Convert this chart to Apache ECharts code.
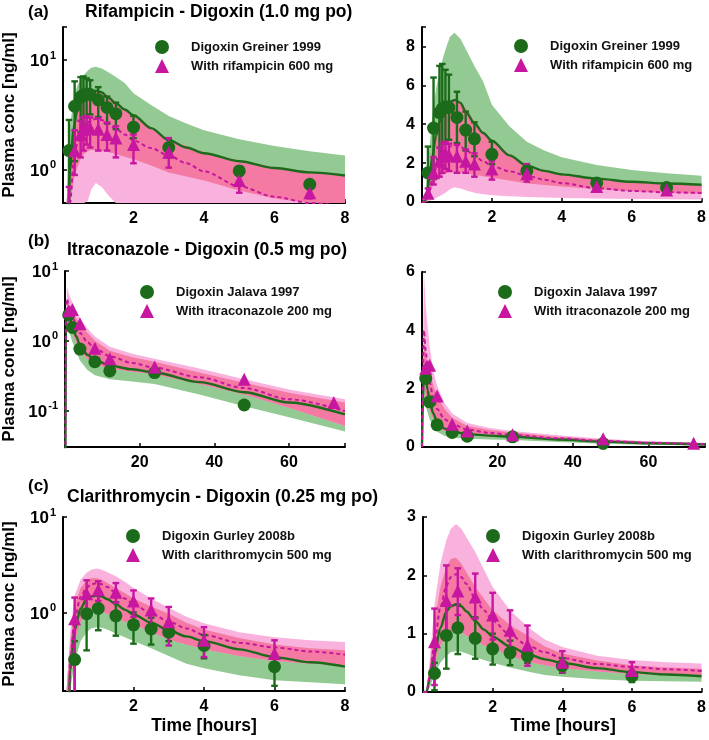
<!DOCTYPE html>
<html><head><meta charset="utf-8">
<script src="https://cdn.jsdelivr.net/npm/echarts@6/dist/echarts.min.js"></script>
<style>html,body{margin:0;padding:0;background:#fff}#c{width:709px;height:740px}</style>
</head><body><div id="c"></div>
<script>
// ---------- Panel (a): Rifampicin - Digoxin (1.0 mg po) ----------
const aObsTime = [0.17, 0.33, 0.5, 0.58, 0.67, 0.77, 1.0, 1.25, 1.5, 2, 3, 5, 7];
const aDigMean = [1.5, 3.8, 4.6, 4.8, 4.9, 4.85, 4.35, 3.7, 3.25, 2.45, 1.6, 0.98, 0.74];
const aDigLo   = [0.3, 1.2, 2.2, 2.6, 3.0, 3.2, 3.03, 2.65, 2.35, 1.95, 1.3, 0.88, 0.68];
const aDigHi   = [2.85, 6.4, 7.0, 7.1, 6.8, 6.55, 5.67, 4.65, 4.1, 3.1, 1.92, 1.08, 0.8];
const aDdiMean = [0.45, 1.5, 2.1, 2.35, 2.5, 2.4, 2.35, 2.1, 1.95, 1.7, 1.45, 0.8, 0.62];
const aDdiLo   = [0.25, 0.9, 1.3, 1.5, 1.7, 1.6, 1.5, 1.5, 1.3, 1.15, 1.05, 0.62, 0.55];
const aDdiHi   = [0.7, 2.3, 2.8, 3.0, 3.1, 3.0, 2.95, 2.7, 2.5, 2.1, 1.95, 1.0, 0.72];
const aSimTime = [0, 0.1, 0.2, 0.3, 0.4, 0.5, 0.6, 0.7, 0.8, 0.95, 1.1, 1.25, 1.5, 1.75, 2, 2.5, 3, 3.5, 4, 5, 6, 7, 8];
const aSimDig  = [0, 0.05, 1.0, 2.4, 3.4, 4.1, 4.6, 4.95, 5.15, 5.25, 5.1, 4.65, 4.05, 3.55, 3.15, 2.4, 1.87, 1.6, 1.42, 1.2, 1.04, 0.95, 0.89];
const aSimDdi  = [0, 0.03, 0.5, 1.15, 1.7, 2.15, 2.45, 2.7, 2.85, 2.92, 2.85, 2.68, 2.38, 2.1, 1.85, 1.58, 1.35, 1.15, 0.97, 0.71, 0.57, 0.5, 0.46];
const aBandTime  = [0.1, 0.2, 0.3, 0.4, 0.5, 0.6, 0.7, 0.8, 0.93, 1.1, 1.3, 1.5, 1.75, 2, 2.5, 3, 3.5, 4, 5, 6, 7, 8];
const aDigBandLo = [0.05, 0.4, 0.8, 1.05, 1.25, 1.4, 1.48, 1.52, 1.52, 1.5, 1.45, 1.4, 1.32, 1.25, 1.1, 0.95, 0.87, 0.8, 0.65, 0.55, 0.48, 0.43];
const aDigBandHi = [0.3, 2.5, 4.5, 5.8, 6.7, 7.4, 8.0, 8.5, 8.7, 8.4, 7.7, 7.0, 6.2, 5.0, 3.9, 3.1, 2.65, 2.3, 1.9, 1.65, 1.48, 1.35];
const aDdiBandLo = [0.0, 0.05, 0.12, 0.2, 0.3, 0.4, 0.52, 0.66, 0.76, 0.7, 0.58, 0.47, 0.4, 0.35, 0.3, 0.26, 0.23, 0.21, 0.18, 0.16, 0.14, 0.13];
const aDdiBandHi = [0.15, 1.2, 2.6, 3.6, 4.3, 4.75, 5.05, 5.2, 5.3, 5.15, 4.7, 4.15, 3.6, 3.2, 2.45, 1.92, 1.65, 1.45, 1.22, 1.06, 0.97, 0.91];

// ---------- Panel (b): Itraconazole - Digoxin (0.5 mg po) ----------
const bDigTime = [1, 2, 4, 8, 12, 24, 48];
const bDigMean = [2.35, 1.55, 0.76, 0.5, 0.37, 0.35, 0.12];
const bDdiTime = [1, 2, 4, 8, 12, 24, 48, 72];
const bDdiMean = [2.7, 2.8, 1.75, 0.78, 0.55, 0.42, 0.28, 0.13];
const bSimTime = [0, 0.25, 0.5, 1, 1.5, 2, 3, 4, 6, 8, 12, 18, 24, 36, 48, 60, 75];
const bSimDig  = [0, 1.6, 2.8, 2.45, 1.95, 1.6, 1.15, 0.87, 0.63, 0.53, 0.44, 0.39, 0.35, 0.255, 0.183, 0.13, 0.088];
const bSimDdi  = [0, 2.5, 4.0, 3.3, 2.7, 2.25, 1.65, 1.3, 0.95, 0.78, 0.6, 0.48, 0.41, 0.3, 0.21, 0.145, 0.098];
const bBandTime  = [0, 0.5, 1, 2, 3, 4, 6, 8, 12, 18, 24, 36, 48, 60, 75];
const bDigBandLo = [0, 1.5, 1.4, 0.95, 0.7, 0.52, 0.38, 0.32, 0.28, 0.26, 0.24, 0.17, 0.115, 0.08, 0.05];
const bDigBandHi = [0, 3.6, 3.2, 2.6, 2.1, 1.75, 1.3, 1.0, 0.72, 0.58, 0.5, 0.35, 0.25, 0.18, 0.13];
const bDdiBandLo = [0, 2.0, 1.8, 1.3, 0.95, 0.7, 0.55, 0.46, 0.4, 0.36, 0.33, 0.24, 0.17, 0.11, 0.06];
const bDdiBandHi = [0, 6.0, 4.8, 3.5, 2.6, 2.1, 1.5, 1.15, 0.82, 0.65, 0.55, 0.4, 0.28, 0.2, 0.145];

// ---------- Panel (c): Clarithromycin - Digoxin (0.25 mg po) ----------
const cObsTime = [0.33, 0.67, 1, 1.5, 2, 2.5, 3, 4, 6];
const cDigMean = [0.32, 0.97, 1.1, 0.92, 0.74, 0.67, 0.62, 0.45, 0.27];
const cDigLo   = [0.03, 0.4, 0.65, 0.57, 0.47, 0.46, 0.5, 0.33, 0.17];
const cDigHi   = [0.5, 1.5, 1.5, 1.28, 1.0, 0.88, 0.75, 0.58, 0.36];
const cDdiMean = [0.86, 1.57, 1.73, 1.63, 1.32, 1.06, 0.8, 0.51, 0.37];
const cDdiLo   = [0.12, 0.97, 1.32, 1.26, 0.9, 0.74, 0.45, 0.34, 0.27];
const cDdiHi   = [1.43, 2.17, 2.12, 2.03, 1.7, 1.4, 1.14, 0.7, 0.51];
const cSimTime = [0, 0.1, 0.2, 0.33, 0.5, 0.67, 0.8, 0.95, 1.1, 1.25, 1.5, 1.75, 2, 2.5, 3, 3.5, 4, 5, 6, 7, 8];
const cSimDig  = [0, 0, 0.25, 0.65, 1.1, 1.38, 1.47, 1.5, 1.47, 1.38, 1.22, 1.07, 0.95, 0.78, 0.65, 0.56, 0.5, 0.41, 0.34, 0.3, 0.27];
const cSimDdi  = [0, 0, 0.3, 0.85, 1.45, 1.82, 1.97, 2.02, 1.97, 1.85, 1.6, 1.4, 1.22, 0.98, 0.8, 0.68, 0.58, 0.48, 0.43, 0.39, 0.36];
const cDigBandLo = [0, 0, 0.08, 0.3, 0.5, 0.62, 0.68, 0.7, 0.69, 0.66, 0.6, 0.55, 0.5, 0.42, 0.35, 0.29, 0.26, 0.22, 0.195, 0.185, 0.177];
const cDigBandHi = [0, 0, 0.45, 1.2, 1.8, 2.15, 2.28, 2.3, 2.2, 2.05, 1.8, 1.6, 1.4, 1.15, 0.97, 0.78, 0.66, 0.54, 0.46, 0.42, 0.4];
const cDdiBandLo = [0, 0, 0.15, 0.5, 0.8, 0.95, 1.02, 1.05, 1.02, 0.97, 0.88, 0.8, 0.75, 0.62, 0.52, 0.46, 0.41, 0.35, 0.31, 0.29, 0.28];
const cDdiBandHi = [0, 0, 0.6, 1.5, 2.2, 2.6, 2.8, 2.88, 2.8, 2.65, 2.4, 2.1, 1.8, 1.4, 1.12, 0.9, 0.77, 0.62, 0.55, 0.51, 0.49];

// ---------- Labels ----------
const panelLetters = ['(a)', '(b)', '(c)'];
const panelTitles = ['Rifampicin - Digoxin (1.0 mg po)', 'Itraconazole - Digoxin (0.5 mg po)', 'Clarithromycin - Digoxin (0.25 mg po)'];
const legendNames = [
  ['Digoxin Greiner 1999', 'With rifampicin 600 mg'],
  ['Digoxin Jalava 1997', 'With itraconazole 200 mg'],
  ['Digoxin Gurley 2008b', 'With clarithromycin 500 mg']
];
const yAxisTitle = 'Plasma conc [ng/ml]';
const xAxisTitle = 'Time [hours]';

// ---------- Styling ----------
const FONT = '"Liberation Sans", Arial, sans-serif';
const C_GREEN_BAND = '#93ca93';
const C_PINK_LIGHT = '#f9b2de';
const C_PINK_OVER = '#f47aa3';
const C_GREEN = '#1b6b1b';
const C_MAG = '#c7169f';

const chart = echarts.init(document.getElementById('c'), null, {renderer: 'canvas'});

function pos(v, isLog) { return (isLog && !(v > 0)) ? 1e-4 : v; }

const panels = [
  {isLog: true, xMax: 8, xInt: 2, yMin: 0.5, yMax: 20, grid: {left: 63, top: 27, width: 282, height: 176}, leg: [155, 40]},
  {isLog: false, xMax: 8, xInt: 2, yMin: 0, yMax: 9, yInt: 2, grid: {left: 422, top: 27, width: 282, height: 175}, leg: [514, 39]},
  {isLog: true, xMax: 75, xInt: 20, yMin: 0.03, yMax: 10, grid: {left: 65, top: 271, width: 280, height: 176}, leg: [140, 285]},
  {isLog: false, xMax: 75, xInt: 20, yMin: 0, yMax: 6, yInt: 2, grid: {left: 422, top: 272, width: 283, height: 175}, leg: [498, 285]},
  {isLog: true, xMax: 8, xInt: 2, yMin: 0.15, yMax: 10, grid: {left: 63, top: 517, width: 282, height: 174}, leg: [126, 529]},
  {isLog: false, xMax: 8, xInt: 2, yMin: 0, yMax: 3, yInt: 1, grid: {left: 423, top: 517, width: 281, height: 175}, leg: [486, 529]}
];

const dataSets = [
  {obsDigT: aObsTime, digM: aDigMean, digLo: aDigLo, digHi: aDigHi, obsDdiT: aObsTime, ddiM: aDdiMean, ddiLo: aDdiLo, ddiHi: aDdiHi,
   simT: aSimTime, simDig: aSimDig, simDdi: aSimDdi, bandT: aBandTime, gLo: aDigBandLo, gHi: aDigBandHi, pLo: aDdiBandLo, pHi: aDdiBandHi},
  {obsDigT: bDigTime, digM: bDigMean, obsDdiT: bDdiTime, ddiM: bDdiMean,
   simT: bSimTime, simDig: bSimDig, simDdi: bSimDdi, bandT: bBandTime, gLo: bDigBandLo, gHi: bDigBandHi, pLo: bDdiBandLo, pHi: bDdiBandHi},
  {obsDigT: cObsTime, digM: cDigMean, digLo: cDigLo, digHi: cDigHi, obsDdiT: cObsTime, ddiM: cDdiMean, ddiLo: cDdiLo, ddiHi: cDdiHi,
   simT: cSimTime, simDig: cSimDig, simDdi: cSimDdi, bandT: cSimTime, gLo: cDigBandLo, gHi: cDigBandHi, pLo: cDdiBandLo, pHi: cDdiBandHi}
];

function bandSeries(gi, isLog, times, lo, hi, color, z) {
  return {
    type: 'custom', xAxisIndex: gi, yAxisIndex: gi, z: z, silent: true,
    data: [[times[0], pos(hi[0], isLog)]],
    renderItem: function (params, api) {
      const pts = [];
      for (let i = 0; i < times.length; i++) pts.push(api.coord([times[i], pos(hi[i], isLog)]));
      for (let i = times.length - 1; i >= 0; i--) pts.push(api.coord([times[i], pos(lo[i], isLog)]));
      const cs = params.coordSys;
      const clipped = echarts.graphic.clipPointsByRect(pts, {x: cs.x, y: cs.y, width: cs.width, height: cs.height});
      return {type: 'polygon', shape: {points: clipped, smooth: 0}, style: {fill: color, stroke: null}};
    }
  };
}

function errSeries(gi, isLog, times, lo, hi, color) {
  return {
    type: 'custom', xAxisIndex: gi, yAxisIndex: gi, z: 4, silent: true,
    data: times.map((t, i) => [t, pos(lo[i], isLog), hi[i]]),
    encode: {x: 0, y: [1, 2]},
    renderItem: function (params, api) {
      const cs = params.coordSys;
      const top = api.coord([api.value(0), api.value(2)]);
      const bot = api.coord([api.value(0), api.value(1)]);
      const yb = cs.y + cs.height;
      let y2 = bot[1];
      const botClipped = y2 > yb;
      if (botClipped) y2 = yb;
      const x = top[0], w = 3.3;
      const st = {stroke: color, lineWidth: 2.4};
      const ch = [{type: 'line', shape: {x1: x, y1: top[1], x2: x, y2: y2}, style: st},
                  {type: 'line', shape: {x1: x - w, y1: top[1], x2: x + w, y2: top[1]}, style: st}];
      if (!botClipped) ch.push({type: 'line', shape: {x1: x - w, y1: y2, x2: x + w, y2: y2}, style: st});
      return {type: 'group', children: ch};
    }
  };
}

const grids = [], xAxes = [], yAxes = [], series = [], legends = [];
panels.forEach((p, gi) => {
  const ds = dataSets[Math.floor(gi / 2)];
  const names = legendNames[Math.floor(gi / 2)];
  const isLog = p.isLog;
  grids.push(Object.assign({containLabel: false}, p.grid));
  xAxes.push({
    type: 'value', gridIndex: gi, min: 0, max: p.xMax, interval: p.xInt,
    axisLine: {show: true, onZero: false, lineStyle: {color: '#000', width: 2}},
    axisTick: {show: true, inside: true, length: 4, lineStyle: {color: '#000', width: 1.5}},
    splitLine: {show: false},
    axisLabel: {color: '#000', fontSize: 16, fontWeight: 'bold', fontFamily: FONT, margin: 8,
      formatter: v => (v === 0 || v % p.xInt !== 0) ? '' : String(v)}
  });
  const yAx = {
    gridIndex: gi, min: p.yMin, max: p.yMax,
    axisLine: {show: true, onZero: false, lineStyle: {color: '#000', width: 2}},
    axisTick: {show: true, inside: true, length: 4, lineStyle: {color: '#000', width: 1.5}},
    splitLine: {show: false}
  };
  if (isLog) {
    yAx.type = 'log'; yAx.logBase = 10;
    yAx.axisLabel = {margin: 7, formatter: v => {
      const e = Math.log10(v), r = Math.round(e);
      if (Math.abs(e - r) > 1e-6) return '';
      return '{b|10}{s|' + r + '}';
    }, rich: {
      b: {fontSize: 17, fontWeight: 'bold', color: '#000', fontFamily: FONT, verticalAlign: 'bottom'},
      s: {fontSize: 11, fontWeight: 'bold', color: '#000', fontFamily: FONT, verticalAlign: 'bottom', padding: [0, 0, 9, 1]}
    }};
  } else {
    yAx.type = 'value'; yAx.interval = p.yInt;
    yAx.axisLabel = {margin: 7, color: '#000', fontSize: 16, fontWeight: 'bold', fontFamily: FONT,
      formatter: v => (v % p.yInt === 0) ? String(v) : ''};
  }
  yAxes.push(yAx);

  // bands: green (reference), light pink (with perpetrator), darker pink where both overlap
  const ovLo = ds.bandT.map((t, i) => Math.max(ds.gLo[i], ds.pLo[i]));
  const ovHi = ds.bandT.map((t, i) => Math.max(ovLo[i], Math.min(ds.gHi[i], ds.pHi[i])));
  series.push(bandSeries(gi, isLog, ds.bandT, ds.gLo, ds.gHi, C_GREEN_BAND, 1));
  series.push(bandSeries(gi, isLog, ds.bandT, ds.pLo, ds.pHi, C_PINK_LIGHT, 1));
  series.push(bandSeries(gi, isLog, ds.bandT, ovLo, ovHi, C_PINK_OVER, 1));

  // model lines
  series.push({type: 'line', xAxisIndex: gi, yAxisIndex: gi, z: 3, showSymbol: false, silent: true,
    smooth: 0.3, smoothMonotone: 'x', clip: true,
    data: ds.simT.map((t, i) => [t, pos(ds.simDig[i], isLog)]),
    lineStyle: {color: C_GREEN, width: 2.4}});
  series.push({type: 'line', xAxisIndex: gi, yAxisIndex: gi, z: 3, showSymbol: false, silent: true,
    smooth: 0.3, smoothMonotone: 'x', clip: true,
    data: ds.simT.map((t, i) => [t, pos(ds.simDdi[i], isLog)]),
    lineStyle: {color: C_MAG, width: 2, type: [4, 3]}});

  // observed
  if (ds.digLo) series.push(errSeries(gi, isLog, ds.obsDigT, ds.digLo, ds.digHi, C_GREEN));
  series.push({type: 'scatter', name: names[0], xAxisIndex: gi, yAxisIndex: gi, z: 5,
    symbol: 'circle', symbolSize: 13, itemStyle: {color: C_GREEN, opacity: 1},
    data: ds.obsDigT.map((t, i) => [t, ds.digM[i]])});
  if (ds.ddiLo) series.push(errSeries(gi, isLog, ds.obsDdiT, ds.ddiLo, ds.ddiHi, C_MAG));
  series.push({type: 'scatter', name: names[1], xAxisIndex: gi, yAxisIndex: gi, z: 6,
    symbol: 'triangle', symbolSize: 13, itemStyle: {color: C_MAG, opacity: 1},
    data: ds.obsDdiT.map((t, i) => [t, ds.ddiM[i]])});

  legends.push({left: p.leg[0], top: p.leg[1], orient: 'vertical', padding: 0, itemGap: 5,
    itemWidth: 14, itemHeight: 14, selectedMode: false, data: names,
    textStyle: {fontSize: 13, fontWeight: 'bold', color: '#111', fontFamily: FONT, padding: [0, 0, 0, 17]}});
});

const txt = (x, y, s, size) => ({type: 'text', x: x, y: y, silent: true,
  style: {text: s, fontSize: size, fontWeight: 'bold', fontFamily: FONT, fill: '#000', textVerticalAlign: 'middle', textAlign: 'left'}});

const graphics = [
  txt(28, 12, panelLetters[0], 17), txt(85, 12, panelTitles[0], 17.5),
  txt(28, 241, panelLetters[1], 17), txt(67, 250, panelTitles[1], 17.5),
  txt(28, 486, panelLetters[2], 17), txt(67, 497, panelTitles[2], 17.5)
];
[115, 359, 604].forEach(cy => {
  graphics.push({type: 'text', x: 9, y: cy, rotation: Math.PI / 2, silent: true,
    style: {text: yAxisTitle, fontSize: 17, fontWeight: 'bold', fontFamily: FONT, fill: '#000', textAlign: 'center', textVerticalAlign: 'middle'}});
});
[204, 563].forEach(cx => {
  graphics.push({type: 'text', x: cx, y: 726, silent: true,
    style: {text: xAxisTitle, fontSize: 17.5, fontWeight: 'bold', fontFamily: FONT, fill: '#000', textAlign: 'center', textVerticalAlign: 'middle'}});
});

chart.setOption({
  animation: false,
  backgroundColor: '#fff',
  grid: grids, xAxis: xAxes, yAxis: yAxes, series: series, legend: legends,
  graphic: graphics
});
</script>
</body></html>
